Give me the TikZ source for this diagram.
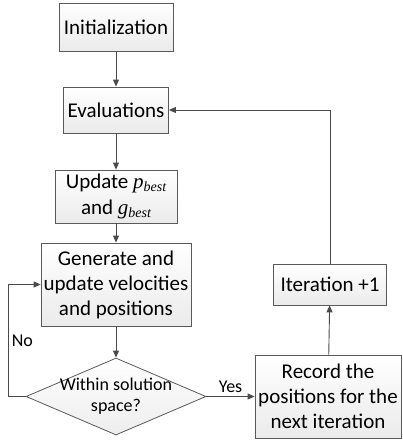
\documentclass[tikz,border=0pt]{standalone}
\usepackage{fontspec}
\setmainfont{Carlito}
\newfontfamily\timesfont{Liberation Serif}
\usetikzlibrary{shapes.geometric,arrows.meta}
\definecolor{edgegray}{HTML}{5A5A5A}
\definecolor{linegray}{HTML}{4A4A4A}
\newcommand{\bestof}[1]{{\timesfont\itshape #1\raisebox{-3pt}{\fontsize{14}{14}\selectfont best}}}
\begin{document}
\begin{tikzpicture}[x=1pt, y=-1pt,
  box/.style={rectangle, draw=edgegray, line width=0.8pt, top color=white, bottom color=black!8, align=center, inner sep=0pt, font=\fontsize{21}{25}\selectfont},
  decision/.style={diamond, draw=edgegray, line width=0.8pt, top color=white, bottom color=black!7, inner sep=0pt, minimum width=180pt, minimum height=77pt},
  flow/.style={draw=linegray, line width=0.9pt, -{Triangle[length=7pt,width=6pt]}},
  tag/.style={font=\fontsize{18}{21}\selectfont, align=center}]
  \useasboundingbox (0, 0) rectangle (402, 441);
  % Nodes
  \node (init) [box, minimum width=114pt, minimum height=48pt] at (116, 27) {Initialization};
  \node (eval) [box, minimum width=105pt, minimum height=46pt] at (116, 110) {Evaluations};
  \node (update) [box, minimum width=122pt, minimum height=53pt] at (116, 196.5) {Update \bestof{p}\\[1pt]and \bestof{g}};
  \node (gen) [box, minimum width=150pt, minimum height=83pt] at (116, 284.5) {Generate and\\update velocities\\and positions};
  \node (check) [decision] at (116, 396.5) {};
  \node (checktext) [tag] at (check) {Within solution\\space?};
  \node (iter) [box, minimum width=113pt, minimum height=41pt] at (330, 284.5) {Iteration +1};
  \node (record) [box, minimum width=146pt, minimum height=83pt] at (328, 396.5) {Record the\\positions for the\\next iteration};
  \coordinate (noturn) at (8, 396.5);
  % Arrows
  \draw[flow] (init) -- (eval);
  \draw[flow] (eval) -- (update);
  \draw[flow] (update) -- (gen);
  \draw[flow] (gen) -- (check);
  \draw[flow] (check.east) -- node[tag, midway, above] {Yes} (record.west);
  \draw[flow] (record) -- (iter);
  \draw[flow] (iter.north) |- (eval.east);
  \draw[flow] (check.west) -- (noturn) |- node[tag, pos=0.25, right] {No} (gen.west);
\end{tikzpicture}
\end{document}
